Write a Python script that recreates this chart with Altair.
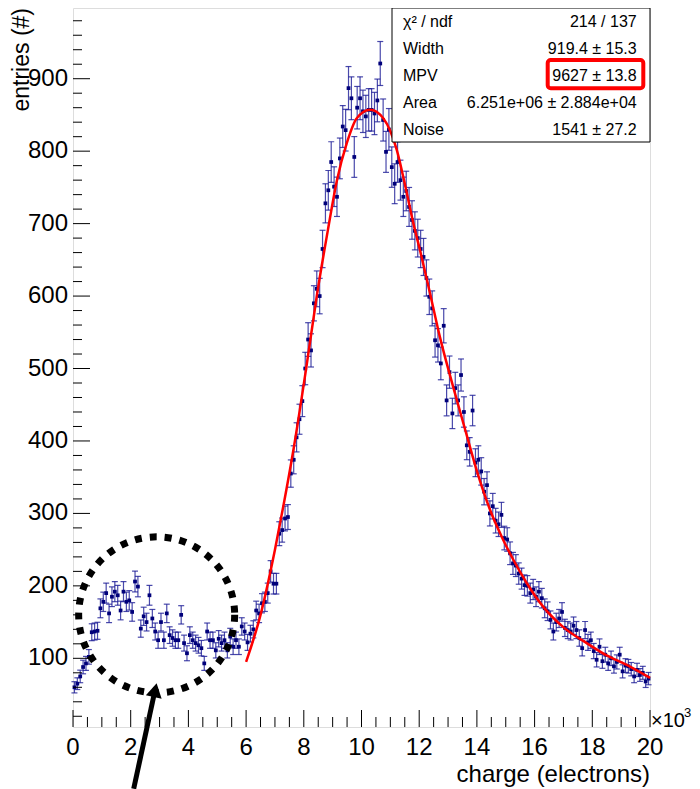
import altair as alt
import pandas as pd

# ---------------- data ----------------
bin_width = 100  # electrons per bin
counts = [
    60, 65, 75, 88, 93, 102, 136, 137, 138, 169,
    178, 190, 162, 185, 192, 187, 166, 192, 178, 180,
    164, 206, 199, 141, 158, 150, 187, 155, 137, 125,
    150, 125, 162, 132, 128, 125, 125, 160, 121, 107,
    132, 125, 121, 118, 114, 93, 137, 125, 125, 111,
    127, 121, 125, 111, 130, 116, 125, 116, 144, 137,
    122, 134, 140, 166, 162, 176, 178, 190, 220, 203,
    203, 272, 277, 293, 295, 355, 374, 405, 430, 455,
    500, 540, 525, 590, 610, 600, 665, 728, 746, 785,
    751, 737, 790, 834, 829, 887, 873, 792, 860, 873,
    855, 848, 857, 857, 852, 870, 921, 843, 799, 830,
    778, 755, 785, 760, 737, 745, 723, 705, 690, 680,
    665, 654, 625, 599, 583, 539, 532, 507, 559, 456,
    495, 438, 473, 456, 491, 440, 394, 385, 442, 370,
    374, 358, 330, 339, 300, 310, 290, 285, 298, 266,
    264, 245, 231, 228, 217, 210, 201, 200, 190, 195,
    185, 192, 183, 169, 165, 153, 137, 150, 155, 164,
    142, 139, 137, 145, 139, 128, 114, 139, 122, 125,
    110, 98, 116, 96, 105, 93, 100, 89, 95, 105,
    82, 90, 89, 85, 75, 84, 77, 80, 68, 72,
]
bin_centers = [bin_width * i + bin_width / 2 for i in range(len(counts))]

fit_x = [6000, 6500, 7000, 7300, 7650, 8100, 8450, 8830, 9150, 9490, 9830,
         10300, 10760, 11220, 11500, 11800, 12030, 12374, 12721, 13182, 13646,
         14049, 14454, 14905, 15262, 15726, 16302, 16995, 17806, 18499, 19192, 20000]
fit_y = [95, 160, 250, 312, 390, 505, 600, 690, 760, 811, 845,
         857, 845, 802, 755, 700, 663, 604, 543, 474, 408,
         352, 305, 264, 236, 204, 171, 143, 121, 104, 91, 73]

stat_names = ["\u03c7\u00b2 / ndf", "Width", "MPV", "Area", "Noise"]
stat_values = ["214 / 137", "919.4 \u00b1 15.3", "9627 \u00b1 13.8",
               "6.251e+06 \u00b1 2.884e+04", "1541 \u00b1 27.2"]

x_major = [0, 2000, 4000, 6000, 8000, 10000, 12000, 14000, 16000, 18000, 20000]
x_minor = [v for v in range(0, 20001, 500) if v % 2000 != 0]
y_major = [100, 200, 300, 400, 500, 600, 700, 800, 900]
y_minor = [v for v in range(20, 1000, 20) if v % 100 != 0]
x_title = "charge (electrons)"
y_title = "entries (#)"

# annotation (dotted circle + arrow), in data units
circle_c = [2900, 160]
arrow_x = [2104, 2860]
arrow_y = [-80, 59]
head_xy = [2849, 56]

# ---------------- layout ----------------
W, H = 577, 719
XDOM = [0, 20000]
YDOM = [5.2, 997.6]
FONT = "Liberation Sans"

xs = alt.Scale(domain=XDOM, nice=False, zero=False)
ys = alt.Scale(domain=YDOM, nice=False, zero=False)


def X(f):
    return alt.X(f, scale=xs, axis=None)


def Y(f):
    return alt.Y(f, scale=ys, axis=None)


hist = pd.DataFrame({"c": bin_centers, "v": counts})
fit = pd.DataFrame({"x": fit_x, "y": fit_y})
one = pd.DataFrame({"a": [0]})

base = alt.Chart(hist).transform_calculate(
    lo="datum.v - sqrt(datum.v)",
    hi="datum.v + sqrt(datum.v)",
    cl="datum.c - %d" % (bin_width // 2),
    ch="datum.c + %d" % (bin_width // 2),
)

ebar_color = "#1c1c96"
vbars = base.mark_rule(color=ebar_color, strokeWidth=1.2, opacity=0.8).encode(
    x=X("c:Q"), y=Y("lo:Q"), y2="hi:Q")
hbars = base.mark_rule(color=ebar_color, strokeWidth=1.2, opacity=0.8).encode(
    x=X("cl:Q"), x2="ch:Q", y=Y("v:Q"))
cap_lo = base.mark_tick(orient="horizontal", size=6, thickness=1.2,
                        color=ebar_color, opacity=0.8).encode(x=X("c:Q"), y=Y("lo:Q"))
cap_hi = base.mark_tick(orient="horizontal", size=6, thickness=1.2,
                        color=ebar_color, opacity=0.8).encode(x=X("c:Q"), y=Y("hi:Q"))
markers = base.mark_square(size=14, color="#00007a", opacity=1).encode(
    x=X("c:Q"), y=Y("v:Q"))

fit_line = alt.Chart(fit).mark_line(color="#ff0000", strokeWidth=2.5,
                                    interpolate="monotone").encode(
    x=X("x:Q"), y=Y("y:Q"))


# ticks drawn inward (ROOT style)
def tick_layer(vals, axis, length):
    df = pd.DataFrame({"t": vals})
    if axis == "x":
        return alt.Chart(df).mark_rule(color="black", strokeWidth=1).encode(
            x=X("t:Q"), y=alt.value(H - length), y2=alt.value(H))
    return alt.Chart(df).mark_rule(color="black", strokeWidth=1).encode(
        y=Y("t:Q"), x=alt.value(0), x2=alt.value(length))


ticks = [tick_layer(x_major, "x", 17), tick_layer(x_minor, "x", 10),
         tick_layer(y_major, "y", 17), tick_layer(y_minor, "y", 9)]

# tick labels and axis titles
xlab = alt.Chart(pd.DataFrame({"t": x_major})).transform_calculate(
    lab="datum.t / 1000").mark_text(
    align="center", baseline="alphabetic", fontSize=24, font=FONT, color="black").encode(
    x=X("t:Q"), y=alt.value(H + 28), text=alt.Text("lab:Q", format="d"))
ylab = alt.Chart(pd.DataFrame({"t": y_major})).mark_text(
    align="right", baseline="middle", fontSize=24, font=FONT, color="black").encode(
    y=Y("t:Q"), x=alt.value(-5), text=alt.Text("t:Q", format="d"))
xtit = alt.Chart(one).mark_text(text=x_title, align="right", baseline="alphabetic",
                                fontSize=24, font=FONT, color="black").encode(
    x=alt.value(W), y=alt.value(H + 55))
ytit = alt.Chart(one).mark_text(text=y_title, align="right", baseline="alphabetic",
                                angle=270, fontSize=23, font=FONT, color="black").encode(
    x=alt.value(-44), y=alt.value(0))

# annotation
circ = alt.Chart(pd.DataFrame({"x": [circle_c[0]], "y": [circle_c[1]]})).mark_point(
    shape="circle", filled=False, size=156 * 156, color="black", strokeWidth=7,
    strokeDash=[7, 8], opacity=1).encode(x=X("x:Q"), y=Y("y:Q"))
arrow = alt.Chart(pd.DataFrame({"x": arrow_x, "y": arrow_y})).mark_line(
    color="black", strokeWidth=5).encode(x=X("x:Q"), y=Y("y:Q"))
head = alt.Chart(pd.DataFrame({"x": [head_xy[0]], "y": [head_xy[1]]})).mark_point(
    shape="triangle-up", filled=True, size=260, color="black", angle=12,
    opacity=1).encode(x=X("x:Q"), y=Y("y:Q"))

# stats box
box = alt.Chart(one).mark_rect(fill="white", stroke="black", strokeWidth=1).encode(
    x=alt.value(319), x2=alt.value(W), y=alt.value(0), y2=alt.value(134))
stats_df = pd.DataFrame({"idx": list(range(len(stat_names))),
                         "name": stat_names, "val": stat_values})
stat_layers = []
for i in range(len(stat_names)):
    row = alt.Chart(stats_df).transform_filter("datum.idx == %d" % i)
    yy = 19.4 + 26.9 * i
    stat_layers.append(row.mark_text(align="left", baseline="alphabetic",
                                     fontSize=16, font=FONT, color="black").encode(
        x=alt.value(330), y=alt.value(yy), text="name:N"))
    stat_layers.append(row.mark_text(align="right", baseline="alphabetic",
                                     fontSize=16, font=FONT, color="black").encode(
        x=alt.value(563.7), y=alt.value(yy), text="val:N"))
hl = alt.Chart(one).mark_rect(fill="white", fillOpacity=0, stroke="#ff0000",
                              strokeWidth=4, cornerRadius=3).encode(
    x=alt.value(474.7), x2=alt.value(570.3), y=alt.value(52), y2=alt.value(80.3))

# x10^3 exponent
exp1 = alt.Chart(one).mark_text(text="\u00d710", align="left", baseline="alphabetic",
                                fontSize=20, font=FONT, color="black").encode(
    x=alt.value(W + 1), y=alt.value(H))
exp2 = alt.Chart(one).mark_text(text="3", align="left", baseline="alphabetic",
                                fontSize=13, font=FONT, color="black").encode(
    x=alt.value(W + 34), y=alt.value(H - 10))

chart = alt.layer(
    vbars, hbars, cap_lo, cap_hi, markers, fit_line, *ticks,
    xlab, ylab, xtit, ytit, circ, arrow, head,
    box, *stat_layers, hl, exp1, exp2,
).properties(
    width=W, height=H, autosize="none",
    padding={"left": 65, "top": 0, "right": 42, "bottom": 62},
).configure_view(stroke="black", strokeWidth=1).configure(font=FONT, background="white")

chart.save("out.html", embed_options={"renderer": "svg", "actions": False})
